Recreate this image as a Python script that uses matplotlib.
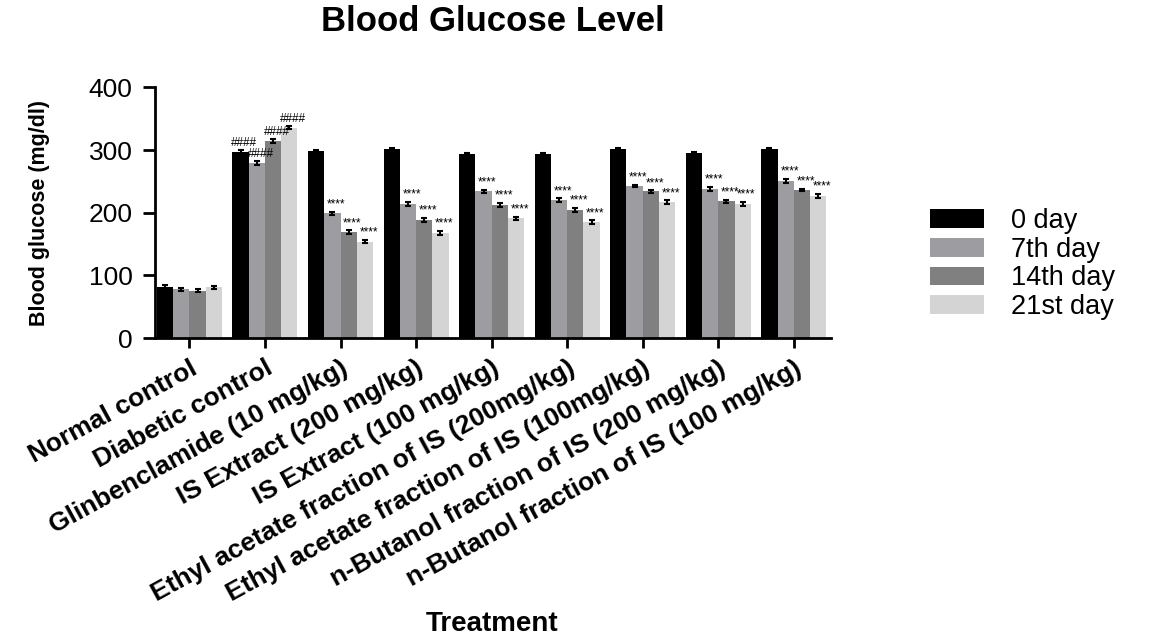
import numpy as np
import matplotlib.pyplot as plt

plt.rcParams['font.family'] = ['Liberation Sans', 'DejaVu Sans']

groups = ['Normal control', 'Diabetic control', 'Glinbenclamide (10 mg/kg)',
          'IS Extract (200 mg/kg)', 'IS Extract (100 mg/kg)',
          'Ethyl acetate fraction of IS (200mg/kg)',
          'Ethyl acetate fraction of IS (100mg/kg)',
          'n-Butanol fraction of IS (200 mg/kg)',
          'n-Butanol fraction of IS (100 mg/kg)']
series_names = ['0 day', '7th day', '14th day', '21st day']

day0 = [82, 297, 298, 301, 293, 293, 301, 295, 301]
day7 = [78, 279, 199, 214, 234, 220, 243, 238, 251]
day14 = [76, 314, 169, 189, 213, 205, 234, 218, 236]
day21 = [81, 336, 154, 168, 191, 185, 217, 214, 227]
err0 = [2, 3, 2, 2, 2, 2, 2, 2, 2]
err7 = [2, 3, 3, 3, 3, 3, 2, 3, 3]
err14 = [2, 3, 3, 3, 3, 3, 2, 3, 2]
err21 = [2, 2, 3, 3, 3, 3, 3, 3, 3]
# significance marks per group (None = no mark)
marks0 = [None, '####', None, None, None, None, None, None, None]
marks_later = [None, '####', '****', '****', '****', '****', '****', '****', '****']

colors = ['#000000', '#9d9da1', '#808080', '#d4d4d4']
values = [day0, day7, day14, day21]
errors = [err0, err7, err14, err21]

fig = plt.figure(figsize=(11.54, 6.38), dpi=100)
ax = fig.add_axes([0.134, 0.470, 0.586, 0.393])

x = np.arange(len(groups))
w = 0.215
for k in range(4):
    pos = x + (k - 1.5) * w
    ax.bar(pos, values[k], width=w, color=colors[k], label=series_names[k],
           yerr=errors[k], error_kw=dict(ecolor='black', elinewidth=1.5, capsize=2.5, capthick=1.5))
    marks = marks0 if k == 0 else marks_later
    for i in range(len(groups)):
        if marks[i]:
            ax.text(pos[i] + 0.05, values[k][i] + errors[k][i] + 2, marks[i],
                    ha='center', va='bottom', fontsize=8.5, color='black')

ax.set_xlim(-0.46, 8.49)
ax.set_ylim(0, 400)
ax.set_yticks([0, 100, 200, 300, 400])
ax.set_xticks(x)
ax.set_xticklabels(groups, rotation=28.6, ha='right', rotation_mode='anchor',
                   fontsize=19, fontweight='bold')
ax.tick_params(axis='y', labelsize=19, width=2, length=9, pad=7)
ax.tick_params(axis='x', width=2, length=7, pad=6)
for s in ['top', 'right']:
    ax.spines[s].set_visible(False)
for s in ['left', 'bottom']:
    ax.spines[s].set_linewidth(2)

ax.set_ylabel('Blood glucose (mg/dl)', fontsize=15.5, fontweight='bold')
ax.yaxis.set_label_coords(-0.155, 0.5)
fig.text(0.427, 0.966, 'Blood Glucose Level', ha='center', va='center',
         fontsize=25, fontweight='bold')
fig.text(0.426, 0.002, 'Treatment', ha='center', va='bottom',
         fontsize=20, fontweight='bold')

fig.legend(loc='center left', bbox_to_anchor=(0.806, 0.586), frameon=False,
           fontsize=19.5, handlelength=2.0, handleheight=0.68, labelspacing=0.1,
           handletextpad=1.0, borderpad=0, borderaxespad=0)

fig.savefig('out.png', dpi=100)
